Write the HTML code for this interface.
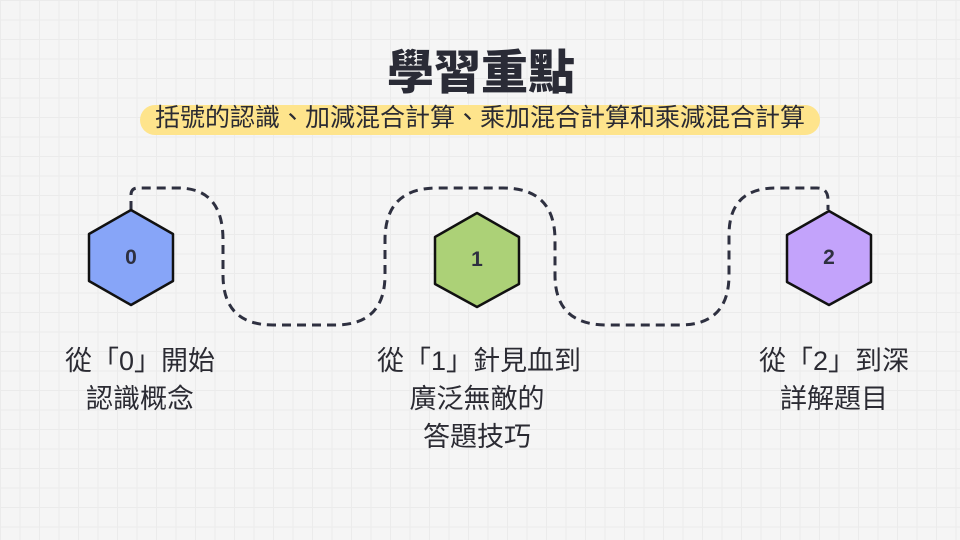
<!DOCTYPE html>
<html><head><meta charset="utf-8"><style>
html,body{margin:0;padding:0}
body{width:960px;height:540px;position:relative;overflow:hidden;background-color:#f5f5f5;
background-image:linear-gradient(#ebebeb 1px,transparent 1px),linear-gradient(90deg,#ebebeb 1px,transparent 1px);background-size:19.5px 19.5px;
font-family:"Liberation Sans","Noto Sans CJK TC",sans-serif;color:#2b2b33}
.t{position:absolute;white-space:nowrap;text-align:center}
</style></head><body>
<div class="t" style="left:0;width:962px;top:44px;font-size:47px;font-weight:900;color:#2a2b36;line-height:58px">學習重點</div>
<div style="position:absolute;left:140px;top:105px;width:680px;height:30px;border-radius:15px;background:#fee48c"></div>
<div class="t" style="left:140px;width:680px;top:102px;font-size:25px;line-height:32px;color:#2b2b33">括號的認識、加減混合計算、乘加混合計算和乘減混合計算</div>
<svg width="960" height="540" style="position:absolute;left:0;top:0">
<path d="M131 210 V195 Q131 188 138 188 H178 Q223 188 223 240 V275 Q223 325 273 325 H335 Q385 325 385 275 V240 Q385 188 437 188 H503 Q555 188 555 240 V275 Q555 325 607 325 H680 Q729 325 729 275 V235 Q729 188 776 188 H817 Q828 188 828 200 V210" fill="none" stroke="#2e3040" stroke-width="3" stroke-dasharray="9 6"/>
<g stroke="#111" stroke-width="2.5" stroke-linejoin="round">
<polygon points="131,210 173,234 173,281 131,305 89,281 89,234" fill="#87a5f8"/>
<polygon points="477,213 519,237 519,284 477,307 435,284 435,237" fill="#acd177"/>
<polygon points="829,211 871,235 871,282 829,305 787,282 787,235" fill="#c3a3fb"/>
</g>
<g font-family="Liberation Sans,sans-serif" font-size="21" font-weight="bold" fill="#2e3040" text-anchor="middle">
<text x="131" y="264">0</text><text x="477" y="266">1</text><text x="829" y="264">2</text>
</g>
</svg>
<div class="t" style="left:40px;width:200px;top:342px;font-size:27px;line-height:38px">從「0」開始<br>認識概念</div>
<div class="t" style="left:377px;width:200px;top:342px;font-size:27px;line-height:38px">從「1」針見血到<br>廣泛無敵的<br>答題技巧</div>
<div class="t" style="left:734px;width:200px;top:342px;font-size:27px;line-height:38px">從「2」到深<br>詳解題目</div>
</body></html>
